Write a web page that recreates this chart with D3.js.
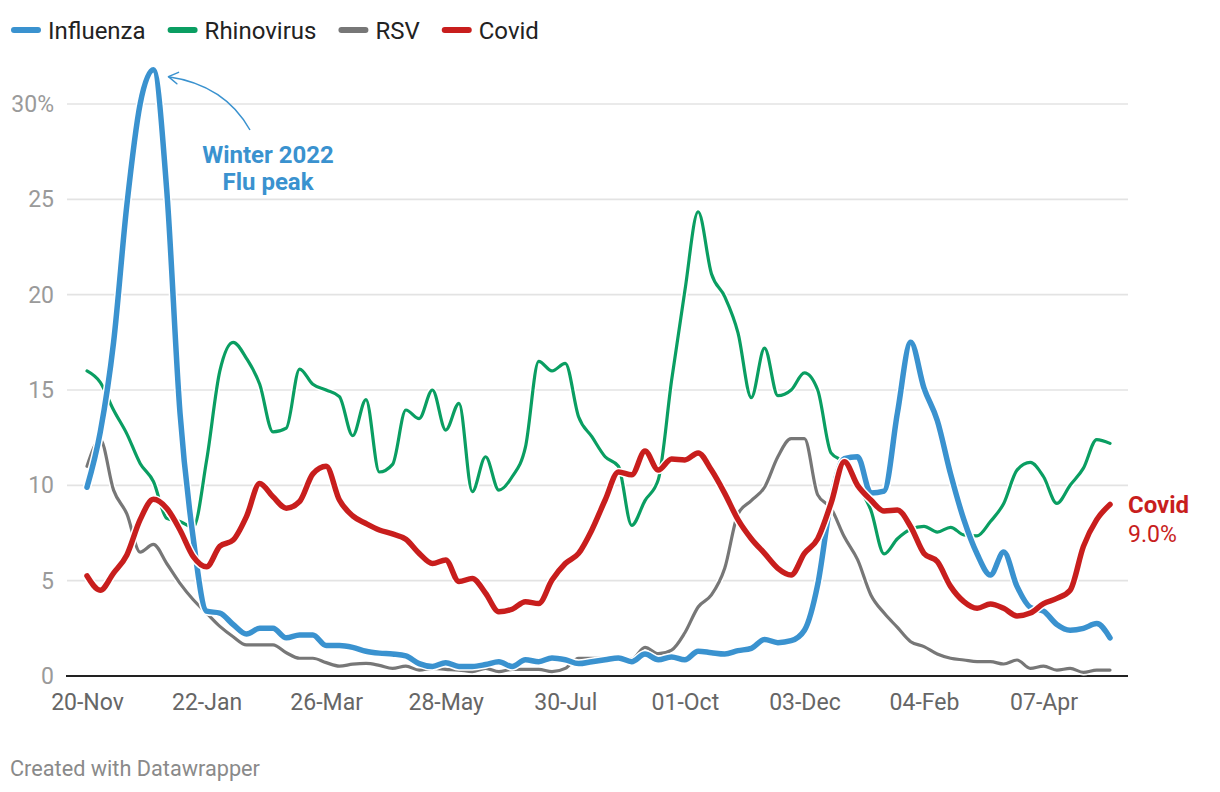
<!DOCTYPE html>
<html>
<head>
<meta charset="utf-8">
<script src="https://cdn.jsdelivr.net/npm/d3@7"></script>
<style>
  html, body { margin: 0; padding: 0; background: #fff; }
  svg { display: block; font-family: Roboto, "Noto Sans", sans-serif; }
</style>
</head>
<body>
<svg id="chart" width="1220" height="792"></svg>
<script>
// ---------- DATA ----------
const startDate = "2022-11-20"; // weekly observations
const seriesNames = ["Influenza", "Rhinovirus", "RSV", "Covid"];
const seriesColors = ["#3a92cf", "#0a9e62", "#777777", "#c81e1d"];

const influenza = [9.9, 12.8, 17.5, 24.7, 30.0, 31.8, 25.5, 13.8, 7.2, 3.4,
  3.3, 2.7, 2.2, 2.5, 2.5, 2.0, 2.15, 2.15, 1.6, 1.6,
  1.5, 1.3, 1.2, 1.15, 1.05, 0.65, 0.5, 0.7, 0.5, 0.5,
  0.6, 0.75, 0.5, 0.85, 0.75, 0.95, 0.85, 0.65, 0.75, 0.85,
  0.95, 0.75, 1.15, 0.85, 1.0, 0.85, 1.3, 1.22, 1.15, 1.33,
  1.45, 1.92, 1.75, 1.85, 2.4, 4.8, 9.2, 11.4, 11.5, 9.6,
  9.7, 13.8, 17.5, 15.1, 13.4, 10.6, 8.2, 6.4, 5.3, 6.5,
  4.7, 3.6, 3.4, 2.7, 2.4, 2.5, 2.75, 2.0];

const rhinovirus = [16.0, 15.4, 13.95, 12.7, 11.15, 10.2, 8.27, 8.1, 7.8, 11.3,
  16.0, 17.5, 16.66, 15.3, 12.8, 13.0, 16.1, 15.3, 15.0, 14.65,
  12.6, 14.5, 10.7, 11.1, 13.95, 13.5, 15.0, 12.9, 14.3, 9.67,
  11.5, 9.75, 10.45, 12.0, 16.5, 16.0, 16.4, 13.6, 12.55, 11.5,
  11.0, 7.9, 9.2, 10.3, 15.5, 20.2, 24.35, 21.1, 19.9, 18.0,
  14.6, 17.2, 14.7, 15.0, 15.9, 15.0, 11.7, 11.2, 10.0, 8.7,
  6.4, 7.2, 7.7, 7.85, 7.55, 7.8, 7.4, 7.35, 8.1, 9.05,
  10.8, 11.2, 10.45, 9.05, 10.0, 10.9, 12.4, 12.2];

const rsv = [11.0, 12.4, 9.75, 8.5, 6.5, 6.9, 5.9, 4.86, 4.0, 3.3,
  2.6, 2.06, 1.63, 1.63, 1.63, 1.22, 0.93, 0.93, 0.7, 0.52,
  0.62, 0.66, 0.56, 0.4, 0.52, 0.31, 0.4, 0.35, 0.31, 0.23,
  0.4, 0.23, 0.35, 0.35, 0.35, 0.23, 0.4, 0.93, 0.93, 0.93,
  0.84, 0.87, 1.5, 1.17, 1.36, 2.27, 3.62, 4.25, 5.65, 8.5,
  9.2, 9.9, 11.5, 12.45, 12.45, 9.5, 8.8, 7.3, 6.1, 4.25,
  3.3, 2.55, 1.8, 1.54, 1.15, 0.93, 0.84, 0.75, 0.75, 0.63,
  0.84, 0.4, 0.52, 0.31, 0.4, 0.19, 0.31, 0.31];

const covid = [5.25, 4.5, 5.4, 6.35, 8.2, 9.27, 8.8, 7.66, 6.26, 5.73,
  6.8, 7.13, 8.36, 10.1, 9.4, 8.8, 9.15, 10.6, 11.0, 9.23,
  8.4, 8.0, 7.66, 7.45, 7.17, 6.43, 5.9, 6.08, 4.95, 5.12,
  4.34, 3.37, 3.5, 3.9, 3.8, 5.03, 5.9, 6.43, 7.66, 9.23,
  10.7, 10.55, 11.8, 10.8, 11.38, 11.33, 11.7, 10.8, 9.58, 8.2,
  7.2, 6.43, 5.65, 5.3, 6.43, 7.2, 9.05, 11.24, 10.0, 9.23,
  8.65, 8.7, 7.83, 6.43, 6.0, 4.7, 3.9, 3.55, 3.78, 3.55,
  3.15, 3.3, 3.8, 4.07, 4.5, 6.8, 8.2, 9.0];

const tickDates = ["2022-11-20", "2023-01-22", "2023-03-26", "2023-05-28", "2023-07-30",
  "2023-10-01", "2023-12-03", "2024-02-04", "2024-04-07"];
const yTicks = [0, 5, 10, 15, 20, 25, 30];

const annotationLines = ["Winter 2022", "Flu peak"];
const covidLabel = ["Covid", "9.0%"];

// ---------- SETUP ----------
const parse = d3.timeParse("%Y-%m-%d");
const start = parse(startDate);
const dates = influenza.map((_, i) => d3.timeDay.offset(start, 7 * i));
const allSeries = [influenza, rhinovirus, rsv, covid];

const svg = d3.select("#chart");
const gridLeft = 67, gridRight = 1128;

const x = d3.scaleTime().domain([dates[0], dates[dates.length - 1]]).range([87, 1110]);
const y = d3.scaleLinear().domain([0, 30]).range([676, 104]);

// gridlines
svg.append("g").selectAll("line")
  .data(yTicks.filter(d => d > 0))
  .join("line")
  .attr("x1", gridLeft).attr("x2", gridRight)
  .attr("y1", d => y(d)).attr("y2", d => y(d))
  .attr("stroke", "#e3e3e3").attr("stroke-width", 1.6);

// y axis labels
const yAxis = svg.append("g")
  .attr("transform", "translate(54,0)")
  .call(d3.axisLeft(y).tickValues(yTicks).tickSize(0).tickPadding(0)
    .tickFormat(d => d === 30 ? "30%" : d));
yAxis.select(".domain").remove();
yAxis.selectAll("text")
  .attr("font-family", "Roboto").attr("font-size", 23).attr("fill", "#9a9a9a");

// x axis labels
const xAxis = svg.append("g")
  .attr("transform", "translate(0,676)")
  .call(d3.axisBottom(x).tickValues(tickDates.map(parse)).tickSize(0).tickPadding(18)
    .tickFormat(d3.timeFormat("%d-%b")));
xAxis.select(".domain").remove();
xAxis.selectAll("text")
  .attr("font-family", "Roboto").attr("font-size", 23).attr("fill", "#666");

// zero baseline
svg.append("line")
  .attr("x1", gridLeft - 1).attr("x2", gridRight)
  .attr("y1", y(0)).attr("y2", y(0))
  .attr("stroke", "#222").attr("stroke-width", 2);

// ---------- LINES ----------
const line = d3.line()
  .x((d, i) => x(dates[i]))
  .y(d => y(d))
  .curve(d3.curveMonotoneX);

const widths = [5.5, 3.2, 3.2, 5.5];
const drawOrder = [2, 1, 0, 3];
drawOrder.forEach(k => {
  svg.append("path")
    .attr("d", line(allSeries[k]))
    .attr("fill", "none")
    .attr("stroke", "#fff")
    .attr("stroke-width", widths[k] + 3)
    .attr("stroke-linejoin", "round")
    .attr("stroke-linecap", "round");
  svg.append("path")
    .attr("d", line(allSeries[k]))
    .attr("fill", "none")
    .attr("stroke", seriesColors[k])
    .attr("stroke-width", widths[k])
    .attr("stroke-linejoin", "round")
    .attr("stroke-linecap", "round");
});

// ---------- LEGEND ----------
const legend = svg.append("g").attr("transform", "translate(0,30)");
let lx = 11;
seriesNames.forEach((name, k) => {
  legend.append("line")
    .attr("x1", lx + 3).attr("x2", lx + 27)
    .attr("y1", 0).attr("y2", 0)
    .attr("stroke", seriesColors[k]).attr("stroke-width", 6)
    .attr("stroke-linecap", "round");
  const t = legend.append("text")
    .attr("x", lx + 37).attr("y", 8.5)
    .attr("font-family", "Roboto").attr("font-size", 24)
    .attr("fill", "#222")
    .text(name);
  lx += 37 + t.node().getComputedTextLength() + 22;
});

// ---------- ANNOTATION ----------
const ann = svg.append("g");
annotationLines.forEach((s, i) => {
  ann.append("text")
    .attr("x", 268).attr("y", 163 + i * 27)
    .attr("text-anchor", "middle")
    .attr("font-family", "Roboto").attr("font-size", 24).attr("font-weight", 700)
    .attr("fill", seriesColors[0])
    .text(s);
});
const peakIdx = influenza.indexOf(d3.max(influenza));
const tipX = x(dates[peakIdx]) + 15, tipY = y(influenza[peakIdx]) + 7;
const sx = 250, sy = 130, cx = 225, cy = 85;
ann.append("path")
  .attr("d", `M${sx},${sy} Q${cx},${cy} ${tipX},${tipY}`)
  .attr("fill", "none").attr("stroke", seriesColors[0]).attr("stroke-width", 1.5);
const ang = Math.atan2(tipY - cy, tipX - cx);
const ah = 11, spread = 0.55;
ann.append("path")
  .attr("d", `M${tipX - ah * Math.cos(ang - spread)},${tipY - ah * Math.sin(ang - spread)} L${tipX},${tipY} L${tipX - ah * Math.cos(ang + spread)},${tipY - ah * Math.sin(ang + spread)}`)
  .attr("fill", "none").attr("stroke", seriesColors[0]).attr("stroke-width", 1.5)
  .attr("stroke-linejoin", "round").attr("stroke-linecap", "round");

// Covid end label
const lastY = y(covid[covid.length - 1]);
svg.append("text")
  .attr("x", 1128).attr("y", lastY + 9)
  .attr("font-family", "Roboto").attr("font-size", 24).attr("font-weight", 700)
  .attr("fill", seriesColors[3]).text(covidLabel[0]);
svg.append("text")
  .attr("x", 1128).attr("y", lastY + 38)
  .attr("font-family", "Roboto").attr("font-size", 23)
  .attr("fill", seriesColors[3]).text(covidLabel[1]);

// footer
svg.append("text")
  .attr("x", 10).attr("y", 776)
  .attr("font-family", "Roboto").attr("font-size", 21.7)
  .attr("fill", "#8a8a8a").text("Created with Datawrapper");
</script>
</body>
</html>
